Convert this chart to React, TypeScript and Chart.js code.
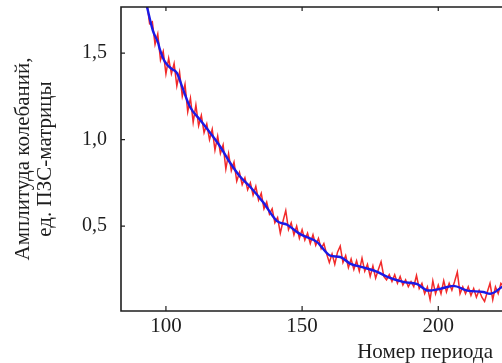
import React, { useEffect, useRef } from "react";
import { Chart, registerables } from "chart.js";

Chart.register(...registerables);

// Period numbers (x) and raw amplitude (red, noisy)
const redPeriods: number[] = [
  93, 94, 95, 96, 97, 98, 99, 100, 101, 102, 103, 104, 105, 106, 107, 108, 109, 110,
  111, 112, 113, 114, 115, 116, 117, 118, 119, 120, 121, 122, 123, 124, 125, 126, 127, 128,
  129, 130, 131, 132, 133, 134, 135, 136, 137, 138, 139, 140, 141, 142, 143, 144, 145, 146,
  147, 148, 149, 150, 151, 152, 153, 154, 155, 156, 157, 158, 159, 160, 161, 162, 163, 164,
  165, 166, 167, 168, 169, 170, 171, 172, 173, 174, 175, 176, 177, 178, 179, 180, 181, 182,
  183, 184, 185, 186, 187, 188, 189, 190, 191, 192, 193, 194, 195, 196, 197, 198, 199, 200,
  201, 202, 203, 204, 205, 206, 207, 208, 209, 210, 211, 212, 213, 214, 215, 216, 217, 218,
  219, 220, 221, 222, 223, 224,
];
const redAmplitude: number[] = [
  1.79, 1.67, 1.68, 1.55, 1.61, 1.46, 1.51, 1.38, 1.47, 1.38, 1.44, 1.31, 1.39, 1.25, 1.32, 1.16, 1.24, 1.1,
  1.2, 1.08, 1.14, 1.04, 1.09, 1.0, 1.06, 0.94, 1.02, 0.92, 0.97, 0.83, 0.92, 0.82, 0.87, 0.76, 0.81, 0.74,
  0.78, 0.71, 0.75, 0.68, 0.73, 0.65, 0.69, 0.6, 0.64, 0.57, 0.6, 0.52, 0.55, 0.46, 0.53, 0.59, 0.48, 0.52,
  0.45, 0.5, 0.43, 0.48, 0.42, 0.46, 0.4, 0.45, 0.39, 0.43, 0.37, 0.4, 0.34, 0.29, 0.34, 0.28, 0.35, 0.385,
  0.29, 0.33, 0.26, 0.31, 0.25, 0.3, 0.24, 0.315, 0.24, 0.28, 0.21, 0.27, 0.2, 0.25, 0.295, 0.21, 0.19, 0.22,
  0.18, 0.22, 0.17, 0.21, 0.16, 0.19, 0.15, 0.18, 0.15, 0.215, 0.14, 0.17, 0.11, 0.15, 0.075, 0.185, 0.11, 0.16,
  0.11, 0.185, 0.12, 0.17, 0.13, 0.18, 0.235, 0.11, 0.15, 0.11, 0.15, 0.1, 0.14, 0.09, 0.13, 0.09, 0.065, 0.12,
  0.17, 0.075, 0.15, 0.11, 0.17, 0.15,
];

// Smoothed amplitude (blue)
const bluePeriods: number[] = [
  93, 95.2, 97.1, 97.8, 99.6, 102, 104, 106.3, 108.8, 112.5, 116.2, 119.9, 123.5, 127.2, 130.9,
  135.7, 140.8, 144.5, 149.3, 155.5, 160.3, 164, 167.6, 172.4, 177.6, 181.3, 187.1, 192.3, 196.3,
  200.7, 205.5, 210.7, 216.5, 219.1, 223.5,
];
const blueAmplitude: number[] = [
  1.77, 1.63, 1.56, 1.52, 1.45, 1.41, 1.385, 1.29, 1.19, 1.115, 1.04, 0.96, 0.868, 0.787, 0.728,
  0.638, 0.529, 0.508, 0.454, 0.408, 0.33, 0.322, 0.284, 0.262, 0.236, 0.207, 0.178, 0.165, 0.128,
  0.138, 0.155, 0.128, 0.12, 0.11, 0.15,
];

const xTicks: number[] = [100, 150, 200];
const yTicks: number[] = [0.5, 1.0, 1.5];
const yTitle: string[] = ["Амплитуда колебаний,", "ед. ПЗС-матрицы"];
const xTitle = "Номер периода";

const FONT = "'Liberation Serif', 'DejaVu Serif', serif";
const INK = "#1e1e1e";

const framePlugin = {
  id: "frame",
  afterDraw(chart: any) {
    const { ctx, chartArea } = chart;
    const { left, right, top, bottom } = chartArea;
    const xs = chart.scales.x;
    const ys = chart.scales.y;
    ctx.save();
    ctx.strokeStyle = INK;
    ctx.lineWidth = 1.6;
    ctx.beginPath();
    ctx.moveTo(right + 2, top);
    ctx.lineTo(left, top);
    ctx.lineTo(left, bottom);
    ctx.lineTo(right + 2, bottom);
    ctx.stroke();
    ctx.lineWidth = 1.2;
    ctx.beginPath();
    for (const v of xTicks) {
      const px = xs.getPixelForValue(v);
      ctx.moveTo(px, bottom);
      ctx.lineTo(px, bottom - 5);
      ctx.moveTo(px, top);
      ctx.lineTo(px, top + 4);
    }
    for (const v of yTicks) {
      const py = ys.getPixelForValue(v);
      ctx.moveTo(left, py);
      ctx.lineTo(left + 4, py);
    }
    ctx.stroke();
    ctx.fillStyle = INK;
    ctx.font = `21px ${FONT}`;
    ctx.textAlign = "right";
    ctx.textBaseline = "middle";
    ctx.fillText(xTitle, chart.width - 9, bottom + 41);
    ctx.restore();
  },
};

export default function App() {
  const ref = useRef<HTMLCanvasElement>(null);

  useEffect(() => {
    if (!ref.current) return;
    const chart = new Chart(ref.current, {
      type: "line",
      data: {
        datasets: [
          {
            label: "smoothed",
            data: bluePeriods.map((x, i) => ({ x, y: blueAmplitude[i] })),
            borderColor: "#1a1ae6",
            borderWidth: 2.4,
            pointRadius: 0,
            tension: 0.4,
            cubicInterpolationMode: "monotone",
            fill: false,
          },
          {
            label: "raw",
            data: redPeriods.map((x, i) => ({ x, y: redAmplitude[i] })),
            borderColor: "#f22a2a",
            borderWidth: 1.5,
            pointRadius: 0,
            tension: 0,
            fill: false,
          },
        ],
      },
      options: {
        responsive: false,
        animation: false,
        layout: { padding: { left: 0, right: 0, top: 7, bottom: 0 } },
        plugins: { legend: { display: false }, tooltip: { enabled: false } },
        scales: {
          x: {
            type: "linear",
            min: 83.5,
            max: 223.4,
            afterBuildTicks: (s: any) => {
              s.ticks = xTicks.map((v) => ({ value: v }));
            },
            afterFit: (s: any) => {
              s.height = 52;
              s.paddingLeft = 0;
              s.paddingRight = 0;
            },
            grid: { display: false, drawTicks: false },
            border: { display: false },
            ticks: {
              color: INK,
              font: { family: FONT, size: 21 },
              padding: 3,
              maxRotation: 0,
              callback: (v: any) => String(v),
            },
          },
          y: {
            type: "linear",
            min: 0.01,
            max: 1.766,
            afterBuildTicks: (s: any) => {
              s.ticks = yTicks.map((v) => ({ value: v }));
            },
            afterFit: (s: any) => {
              s.width = 121;
              s.paddingTop = 0;
              s.paddingBottom = 0;
            },
            grid: { display: false, drawTicks: false },
            border: { display: false },
            ticks: {
              color: INK,
              font: { family: FONT, size: 20 },
              padding: 14,
              callback: (v: any) => Number(v).toFixed(1).replace(".", ","),
            },
            title: {
              display: true,
              text: yTitle,
              color: INK,
              font: { family: FONT, size: 21, lineHeight: 1.05 },
              padding: { top: 12, bottom: 0 },
            },
          },
        },
      },
      plugins: [framePlugin],
    } as any);
    return () => chart.destroy();
  }, []);

  return (
    <div style={{ position: "absolute", left: 0, top: 0, width: 502, height: 363, background: "#fff" }}>
      <canvas ref={ref} width={502} height={363} />
    </div>
  );
}
